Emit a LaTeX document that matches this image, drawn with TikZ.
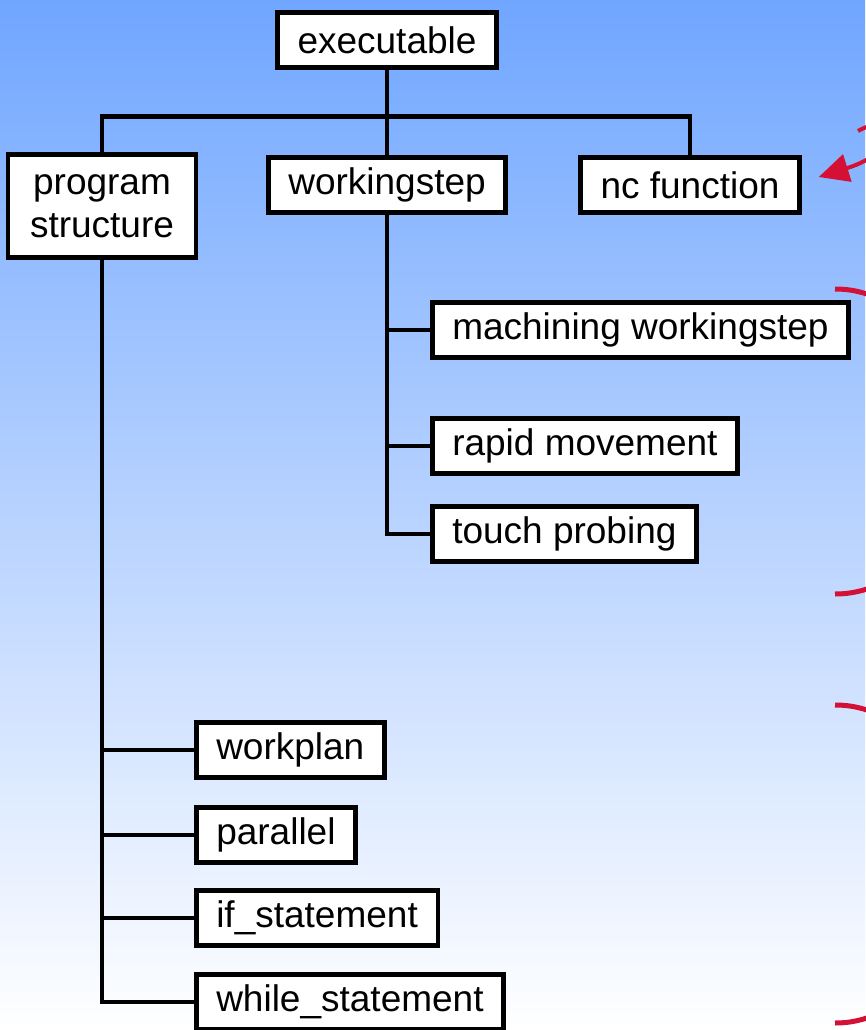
\documentclass[tikz,border=0pt]{standalone}
\usepackage{fontspec}
\setmainfont{Liberation Sans}
\usepackage{xcolor}
\definecolor{SlideTop}{RGB}{112,166,255}
\definecolor{SlideMid}{RGB}{188,214,255}
\definecolor{BraceRed}{RGB}{212,16,52}
\usetikzlibrary{positioning}
\usetikzlibrary{calc}
\usetikzlibrary{arrows.meta}

\begin{document}
\begin{tikzpicture}[
      x=1pt, y=-1pt
      , entity/.style={draw, line width=4.5pt, fill=white, inner xsep=20pt, minimum height=55pt, font=\fontsize{37}{43}\selectfont}
      , tree/.style={line width=4.5pt}
      , brace/.style={color=BraceRed, line width=5pt}
      ]

      \useasboundingbox (0,0) rectangle (865,1030);
      \shade[top color=SlideTop, middle color=SlideMid, bottom color=white] (0,0) rectangle (865,1030);

      \node[entity] (exe) at (387,40) {executable};
      \node[entity, align=center, minimum width=188pt, minimum height=103pt, inner xsep=8pt] (prog) at (102,206) {program\\structure};
      \node[entity] (ws) at (387,185) {workingstep};
      \node[entity] (nc) at (690,185) {nc function};

      \node[entity, anchor=west] (mws) at (430,330) {machining workingstep};
      \node[entity, anchor=west] (rapid) at (430,446) {rapid movement};
      \node[entity, anchor=west] (probe) at (430,534) {touch probing};

      \node[entity, anchor=west] (wplan) at (194,750) {workplan};
      \node[entity, anchor=west] (par) at (194,835) {parallel};
      \node[entity, anchor=west] (ifst) at (194,918) {if\_statement};
      \node[entity, anchor=west] (whilest) at (194,1002) {while\_statement};

      \coordinate (bus) at ($ (exe.south)+(0,47) $);
      \draw[tree] (exe.south) -- (bus) -- (ws.north);
      \draw[tree] (prog.north) |- (bus) -| (nc.north);

      \draw[tree] (ws.south) |- (probe.west);
      \foreach \n in {mws, rapid}
        \draw[tree] (ws.south |- \n.west) -- (\n.west);

      \draw[tree] (prog.south) |- (whilest.west);
      \foreach \n in {wplan, par, ifst}
        \draw[tree] (prog.south |- \n.west) -- (\n.west);

      % red marks cut off at the right edge
      \coordinate (nc-tip) at ($ (nc.east)+(17,-8) $);
      \draw[brace, line width=4pt, -{Triangle[length=30pt, width=28pt]}] (858,131) .. controls (890,112) and (905,150) .. (nc-tip);

      \draw[brace] (835,289) .. controls (848,289) and (858,291) .. (870,295);
      \draw[brace] (835,594) .. controls (848,594) and (858,592) .. (870,588);
      \draw[brace] (835,705) .. controls (848,705) and (858,707) .. (870,711);
      \draw[brace] (835,1023) .. controls (848,1023) and (858,1021) .. (870,1017);
    \end{tikzpicture}
\end{document}
